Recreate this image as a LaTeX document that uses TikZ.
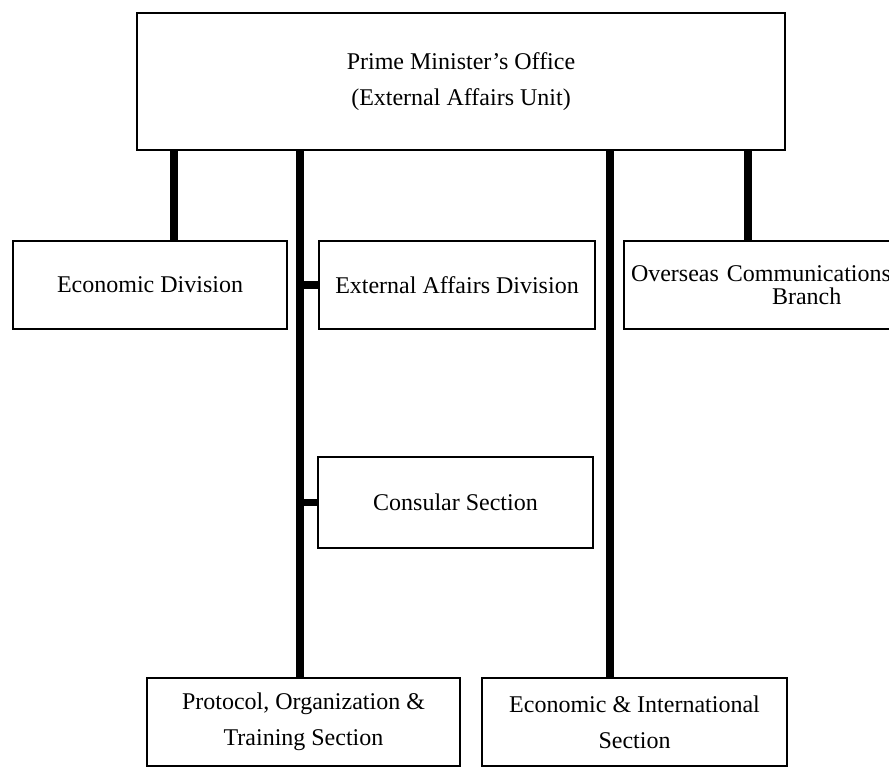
\documentclass[tikz,border=0pt]{standalone}
\usepackage{fontspec}
\setmainfont{Liberation Serif}
\begin{document}
\begin{tikzpicture}[x=1pt,y=1pt,
  box/.style={draw=black,line width=2.2pt,rectangle,inner sep=0pt,align=center,
    font=\fontsize{24}{36}\selectfont},
  conn/.style={draw=black,line width=7.5pt,line cap=butt}]
\useasboundingbox (0,0) rectangle (889,768);
\clip (0,0) rectangle (889,768);
% boxes
\node[box,minimum width=648pt,minimum height=137pt] (pmo) at (461,686.5)
  {Prime Minister's Office\\(External Affairs Unit)};
\node[box,minimum width=274pt,minimum height=88pt] (econ) at (150,483)
  {Economic Division};
\node[box,minimum width=276pt,minimum height=88pt] (extaff) at (457,483)
  {External Affairs Division};
\node[box,minimum width=370pt,minimum height=88pt,text width=356pt,align=left,
  font=\fontsize{24}{23}\selectfont] (overseas) at (809,483)
  {Overseas Communications\\\hspace*{141pt}Branch};
\node[box,minimum width=275pt,minimum height=91pt] (consular) at (455.5,265.5)
  {Consular Section};
\node[box,minimum width=313pt,minimum height=88pt] (protocol) at (303.5,46)
  {\raisebox{0pt}{Protocol, Organization \&}\\Training Section};
\node[box,minimum width=305pt,minimum height=88pt] (econintl) at (634.5,46)
  {Economic \& International\\Section};
% connector x positions
\coordinate (x1) at (174,0);
\coordinate (x2) at (300,0);
\coordinate (x3) at (610,0);
\coordinate (x4) at (748,0);
% connectors
\draw[conn] (pmo.south -| x1) -- (econ.north -| x1);
\draw[conn] (pmo.south -| x2) -- (protocol.north -| x2);
\draw[conn] (pmo.south -| x3) -- (econintl.north -| x3);
\draw[conn] (pmo.south -| x4) -- (overseas.north -| x4);
\draw[conn] (extaff.west -| x2) -- (extaff.west);
\draw[conn] (consular.west -| x2) -- (consular.west);
\end{tikzpicture}
\end{document}
